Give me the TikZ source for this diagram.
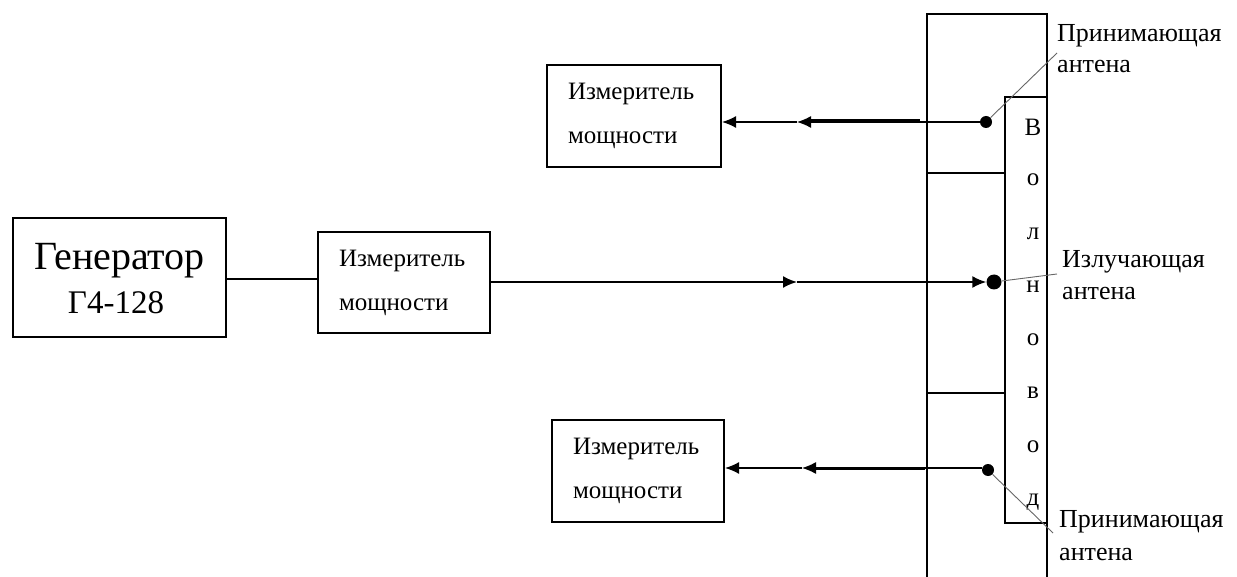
\documentclass[tikz,border=0pt]{standalone}
\usepackage{fontspec}
\setmainfont{Liberation Serif}
\usetikzlibrary{arrows.meta}
\tikzset{
  box/.style={draw, line width=2.2pt, rectangle, inner sep=0pt},
  meter/.style={box, minimum width=172pt, minimum height=101pt, align=left,
     font=\fontsize{25}{44}\selectfont, text width=130pt},
  conn/.style={line width=1.8pt},
  thinconn/.style={line width=1.3pt},
  tip/.style={-{Latex[length=14pt,width=12pt]}},
  dot/.style={circle, fill=black, inner sep=0pt, minimum size=12pt},
  leader/.style={line width=0.9pt, black!60},
  lbl/.style={anchor=base west, inner sep=0pt, font=\fontsize{26}{30}\selectfont},
  wg/.style={anchor=base, inner sep=0pt, font=\fontsize{25}{25}\selectfont},
  wall/.style={line width=2pt}
}
\begin{document}
\begin{tikzpicture}[x=1pt,y=-1pt]
\useasboundingbox (0,0) rectangle (1237,577);
% generator
\node[box, minimum width=213pt, minimum height=119pt] (gen) at (119.5,277.5) {};
\node[anchor=base, inner sep=0pt, font=\fontsize{40}{40}\selectfont] (genA) at (119.5,270) {Генератор};
\node[anchor=base, inner sep=0pt, font=\fontsize{33}{33}\selectfont] (genB) at (116,313) {Г4-128};
% meters
\node[meter] (m1) at (404,282.5) {Измеритель\\мощности};
\node[meter, minimum width=174pt, minimum height=102pt, text width=132pt] (m2) at (634,116) {Измеритель\\мощности};
\node[meter, minimum width=172pt, minimum height=102pt] (m3) at (638,471) {Измеритель\\мощности};
% waveguide structure
\draw[wall] (927,580) -- (927,14) -- (1047,14) -- (1047,580);
\node[draw, line width=1.6pt, minimum width=42pt, minimum height=426pt, inner sep=0pt] (wgbox) at (1026,310) {};
\draw[line width=1.6pt] (927,173) -- (1005,173);
\draw[line width=1.6pt] (927,393) -- (1005,393);
% waveguide letters
\node[wg] (l1) at (1033,136) {В};
\node[wg] (l2) at (1033,186) {о};
\node[wg] (l3) at (1033,240) {л};
\node[wg] (l4) at (1033,293) {н};
\node[wg] (l5) at (1033,345) {о};
\node[wg] (l6) at (1033,398) {в};
\node[wg] (l7) at (1033,452) {о};
\node[wg] (l8) at (1033,505) {д};
% antennas
\node[dot] (dT) at (986,122) {};
\node[dot, minimum size=15pt] (dM) at (994,282) {};
\node[dot] (dB) at (988,470) {};
% labels
\node[lbl] (rT) at (1057,42) {Принимающая};
\node[lbl] (rT2) at (1057,73) {антена};
\node[lbl] (rM) at (1062,268) {Излучающая};
\node[lbl] (rM2) at (1062,300) {антена};
\node[lbl] (rB) at (1059,527) {Принимающая};
\node[lbl] (rB2) at (1059,560) {антена};
% leader lines
\coordinate (eT) at (1057,53);
\coordinate (eM) at (1057,274);
\coordinate (eB) at (1053,533);
\draw[leader] (dT) -- (eT);
\draw[leader] (dM) -- (eM);
\draw[leader] (dB) -- (eB);
% connectors
\coordinate (gL) at (226,279);
\draw[conn] (gL) -- (gL -| m1.west);
\coordinate (aM) at (797,282);
\draw[conn, tip] (aM -| m1.east) -- (aM);
\draw[conn, tip] (aM) -- (dM.west);
\coordinate (aT) at (797,122);
\coordinate (kT1) at (810,121);
\coordinate (kT2) at (920,121);
\draw[thinconn, tip] (dT) -- (aT);
\draw[line width=3pt] (kT2) -- (kT1);
\draw[thinconn, tip] (aT) -- (aT -| m2.east);
\coordinate (aB) at (802,468);
\coordinate (kB1) at (815,468);
\coordinate (kB2) at (925,468);
\draw[thinconn, tip] (dB.west |- aB) -- (aB);
\draw[line width=3pt] (kB2) -- (kB1);
\draw[thinconn, tip] (aB) -- (aB -| m3.east);
\end{tikzpicture}
\end{document}
